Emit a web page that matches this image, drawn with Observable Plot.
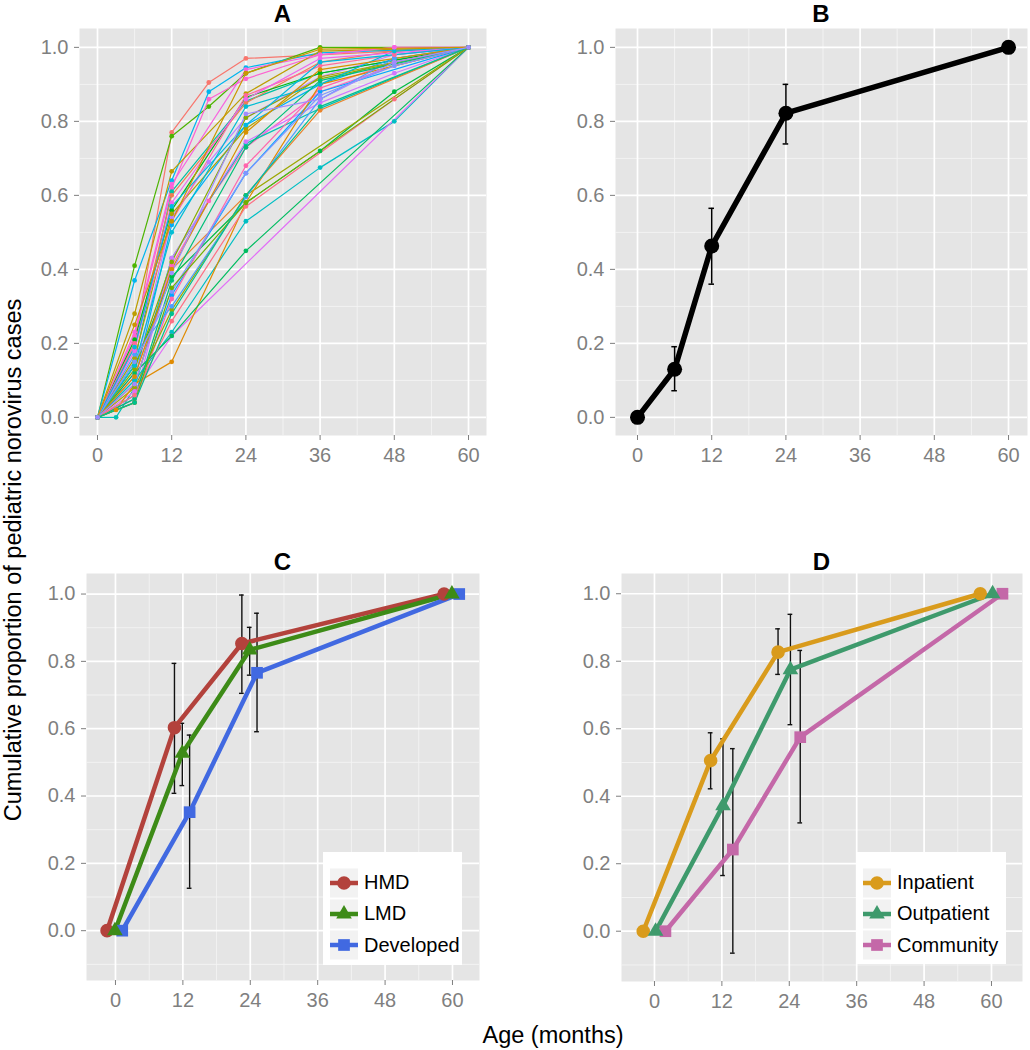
<!DOCTYPE html>
<html><head><meta charset="utf-8">
<script src="https://cdn.jsdelivr.net/npm/d3@7"></script>
<script src="https://cdn.jsdelivr.net/npm/@observablehq/plot@0.6"></script>
<style>
body{margin:0;background:#fff;font-family:"Liberation Sans",Arial,sans-serif;}
#wrap{position:relative;width:1030px;height:1050px;overflow:hidden;background:#fff;}
.pane{position:absolute;}
.ttl{position:absolute;font-weight:bold;font-size:24px;line-height:1;transform:translateX(-50%);color:#000;}
.axt{position:absolute;font-size:23.5px;line-height:1;color:#000;white-space:nowrap;}
.leg{position:absolute;background:#fff;}
.leg .row{position:absolute;left:0;height:30px;display:flex;align-items:center;}
.leg .row span{font-size:20px;color:#000;margin-left:6px;}
</style></head><body><div id="wrap"></div>
<script>
// ---------------- DATA ----------------
// Panel A: cumulative proportion by age (months) for each study: [age, proportion]
const studyCurves = [
  [[0,0],[6,0.2],[12,0.77],[18,0.905],[24,0.97],[60,1]],
  [[0,0],[6,0.41],[12,0.76],[18,0.84],[24,0.93],[36,1.0],[60,1]],
  [[0,0],[6,0.37],[12,0.64],[18,0.88],[24,0.945],[36,0.985],[60,1]],
  [[0,0],[6,0.22],[12,0.62],[18,0.86],[24,0.915],[36,0.98],[48,1.0],[60,1]],
  [[0,0],[6,0.28],[12,0.665],[24,0.875],[36,0.99],[60,1]],
  [[0,0],[6,0.15],[12,0.61],[24,0.855],[36,0.93],[60,1]],
  [[0,0],[6,0.12],[12,0.54],[18,0.69],[24,0.81],[36,0.92],[48,0.98],[60,1]],
  [[0,0],[6,0.19],[12,0.6],[24,0.85],[36,0.96],[48,0.99],[60,1]],
  [[0,0],[6,0.21],[12,0.56],[24,0.865],[36,0.93],[60,1]],
  [[0,0],[6,0.1],[12,0.52],[24,0.79],[36,0.9],[48,0.97],[60,1]],
  [[0,0],[6,0.11],[12,0.41],[18,0.585],[24,0.73],[36,0.88],[48,0.95],[60,1]],
  [[0,0],[6,0.16],[12,0.55],[24,0.78],[36,0.92],[60,1]],
  [[0,0],[3,0],[6,0.08],[12,0.43],[24,0.74],[36,0.835],[60,1]],
  [[0,0],[6,0.05],[12,0.43],[24,0.745],[36,0.85],[48,0.93],[60,1]],
  [[0,0],[6,0.09],[12,0.4],[24,0.6],[36,0.83],[60,1]],
  [[0,0],[6,0.14],[12,0.38],[24,0.58],[36,0.72],[48,0.88],[60,1]],
  [[0,0],[6,0.06],[12,0.33],[24,0.66],[36,0.88],[60,1]],
  [[0,0],[6,0.04],[12,0.32],[24,0.68],[36,0.89],[48,0.96],[60,1]],
  [[0,0],[6,0.08],[12,0.29],[24,0.6],[60,1]],
  [[0,0],[6,0.1],[12,0.23],[24,0.53],[36,0.675],[48,0.8],[60,1]],
  [[0,0],[6,0.07],[12,0.22],[60,1]],
  [[0,0],[3,0.02],[6,0.09],[12,0.15],[24,0.58],[36,0.9],[60,1]],
  [[0,0],[6,0.12],[12,0.22],[24,0.45],[60,1]],
  [[0,0],[6,0.17],[12,0.3],[24,0.595],[36,0.86],[48,0.97],[60,1]],
  [[0,0],[6,0.2],[12,0.53],[24,0.87],[36,0.95],[48,0.98],[60,1]],
  [[0,0],[6,0.13],[12,0.42],[24,0.81],[36,0.915],[60,1]],
  [[0,0],[6,0.14],[12,0.5],[24,0.84],[36,0.9],[48,0.99],[60,1]],
  [[0,0],[6,0.18],[12,0.58],[24,0.86],[36,0.97],[60,1]],
  [[0,0],[6,0.11],[12,0.4],[24,0.77],[36,0.94],[60,1]],
  [[0,0],[6,0.05],[12,0.37],[24,0.73],[36,0.91],[60,1]],
  [[0,0],[6,0.15],[12,0.34],[24,0.66],[36,0.87],[48,0.95],[60,1]],
  [[0,0],[6,0.06],[12,0.26],[24,0.57],[48,0.86],[60,1]],
  [[0,0],[6,0.04],[12,0.35],[24,0.58],[60,1]],
  [[0,0],[6,0.19],[12,0.57],[24,0.79],[36,0.96],[60,1]],
  [[0,0],[6,0.23],[12,0.63],[24,0.94],[36,0.98],[48,1.0],[60,1]],
  [[0,0],[6,0.25],[12,0.53],[24,0.93],[36,0.995],[60,1]],
  [[0,0],[6,0.04],[12,0.28],[24,0.6],[36,0.84],[60,1]],
  [[0,0],[6,0.09],[12,0.39],[24,0.82],[36,0.86],[48,0.96],[60,1]]
];

// Panel B: pooled estimate
const pooledAges = [0, 6, 12, 24, 60];
const pooledMean = [0, 0.13, 0.463, 0.822, 1];
const pooledLow  = [null, 0.072, 0.36, 0.739, null];
const pooledHigh = [null, 0.191, 0.565, 0.9, null];

// Panels C and D share ages
const groupAges = [0, 12, 24, 60];

// Panel C: by mortality stratum
const mortalityGroups = ["HMD", "LMD", "Developed"];
const hmdMean = [0, 0.603, 0.853, 1];
const hmdLow  = [null, 0.408, 0.705, null];
const hmdHigh = [null, 0.794, 0.997, null];
const lmdMean = [0, 0.527, 0.834, 1];
const lmdLow  = [null, 0.431, 0.759, null];
const lmdHigh = [null, 0.616, 0.901, null];
const devMean = [0, 0.352, 0.766, 1];
const devLow  = [null, 0.126, 0.591, null];
const devHigh = [null, 0.581, 0.943, null];

// Panel D: by setting
const settingGroups = ["Inpatient", "Outpatient", "Community"];
const inpMean = [0, 0.506, 0.827, 1];
const inpLow  = [null, 0.422, 0.761, null];
const inpHigh = [null, 0.588, 0.896, null];
const outMean = [0, 0.372, 0.775, 1];
const outLow  = [null, 0.165, 0.612, null];
const outHigh = [null, 0.570, 0.939, null];
const comMean = [0, 0.242, 0.575, 1];
const comLow  = [null, -0.065, 0.321, null];
const comHigh = [null, 0.541, 0.832, null];

const ageTicks = [0, 12, 24, 36, 48, 60];
const ageMinor = [6, 18, 30, 42, 54];
const propTicks = [0, 0.2, 0.4, 0.6, 0.8, 1.0];
const propMinorAB = [0.1, 0.3, 0.5, 0.7, 0.9];
const propMinorCD = [-0.1, 0.1, 0.3, 0.5, 0.7, 0.9];

// ---------------- STYLE ----------------
const FONT = "Liberation Sans, Arial, sans-serif";
const colorsC = {HMD: "#B3423C", LMD: "#3D8B17", Developed: "#4169E1"};
const colorsD = {Inpatient: "#D99B1C", Outpatient: "#3E9A6C", Community: "#C468A8"};
const symbols = ["circle", "triangle", "square"];
const symbolRadius = [6.8, 5.8, 6.6];
const dodgeC = {HMD: -1.5, LMD: -0.1, Developed: 1.2};
const dodgeD = {Inpatient: -2, Outpatient: 0.2, Community: 1.95};

// ggplot2-style hue palette (polar CIE-LUV, l = 65, c = 100)
function polarLuvHex(h, c, l) {
  const hr = h * Math.PI / 180, u = c * Math.cos(hr), v = c * Math.sin(hr);
  const Xn = 95.047, Yn = 100, Zn = 108.883;
  const den = Xn + 15 * Yn + 3 * Zn, un = 4 * Xn / den, vn = 9 * Yn / den;
  const Y = l > 8 ? Yn * Math.pow((l + 16) / 116, 3) : Yn * l / 903.3;
  const up = u / (13 * l) + un, vp = v / (13 * l) + vn;
  const X = Y * 9 * up / (4 * vp), Z = Y * (12 - 3 * up - 20 * vp) / (4 * vp);
  const x = X / 100, y = Y / 100, z = Z / 100;
  const lin = [
    3.2404542 * x - 1.5371385 * y - 0.4985314 * z,
    -0.9692660 * x + 1.8760108 * y + 0.0415560 * z,
    0.0556434 * x - 0.2040259 * y + 1.0572252 * z
  ];
  const g = lin.map(t => { t = Math.max(0, Math.min(1, t)); return t <= 0.0031308 ? 12.92 * t : 1.055 * Math.pow(t, 1 / 2.4) - 0.055; });
  return d3.rgb(g[0] * 255, g[1] * 255, g[2] * 255).formatHex();
}

const wrap = document.getElementById("wrap");

function background(yMinor) {
  return [
    Plot.frame({fill: "#E5E5E5", stroke: "none"}),
    Plot.gridX(ageMinor, {stroke: "#F4F4F4", strokeOpacity: 1, strokeWidth: 0.9}),
    Plot.gridY(yMinor, {stroke: "#F4F4F4", strokeOpacity: 1, strokeWidth: 0.9}),
    Plot.gridX(ageTicks, {stroke: "#ffffff", strokeOpacity: 1, strokeWidth: 1.7}),
    Plot.gridY(propTicks, {stroke: "#ffffff", strokeOpacity: 1, strokeWidth: 1.7}),
    Plot.axisX(ageTicks, {tickSize: 5, tickPadding: 7, fontSize: 20, color: "#7F7F7F", tickFormat: d => String(d), label: null}),
    Plot.axisY(propTicks, {tickSize: 5, tickPadding: 6, fontSize: 20, color: "#7F7F7F", tickFormat: d3.format(".1f"), label: null})
  ];
}

function place(svg, left, top) {
  svg.classList.add("pane");
  svg.style.left = left + "px";
  svg.style.top = top + "px";
  wrap.appendChild(svg);
}

function title(txt, cx, top) {
  const d = document.createElement("div");
  d.className = "ttl"; d.textContent = txt;
  d.style.left = cx + "px"; d.style.top = top + "px";
  wrap.appendChild(d);
}

// ---------------- PANEL A ----------------
const nStudies = studyCurves.length;
const rowsA = studyCurves.flatMap((c, i) => c.map(([age, value]) => ({study: i, age, value})));
const hueRange = d3.range(nStudies).map(k => polarLuvHex(15 + 360 * ((k * 11) % nStudies) / nStudies, 100, 65));

const plotA = Plot.plot({
  width: 500, height: 480,
  marginLeft: 79, marginRight: 14, marginTop: 28, marginBottom: 45,
  x: {domain: [-2.91, 62.91], label: null},
  y: {domain: [-0.049, 1.051], label: null},
  color: {type: "ordinal", domain: d3.range(nStudies), range: hueRange},
  style: {fontFamily: FONT, background: "transparent", overflow: "visible"},
  marks: [
    ...background(propMinorAB),
    Plot.line(rowsA, {x: "age", y: "value", z: "study", stroke: "study", strokeWidth: 1.2}),
    Plot.dot(rowsA, {x: "age", y: "value", fill: "study", r: 2.4})
  ]
});
place(plotA, 0, 0);
title("A", 282.5, 2);

// ---------------- PANEL B ----------------
const rowsB = pooledAges.map((age, i) => ({age, mean: pooledMean[i], lo: pooledLow[i], hi: pooledHigh[i]}));
const errB = rowsB.filter(d => d.lo != null);
const plotB = Plot.plot({
  width: 500, height: 480,
  marginLeft: 85, marginRight: 3, marginTop: 28, marginBottom: 45,
  x: {domain: [-3.56, 63.07], label: null},
  y: {domain: [-0.049, 1.051], label: null},
  style: {fontFamily: FONT, background: "transparent", overflow: "visible"},
  marks: [
    ...background(propMinorAB),
    Plot.ruleX(errB, {x: "age", y1: "lo", y2: "hi", stroke: "#000", strokeWidth: 1.5}),
    Plot.ruleY(errB, {y: "lo", x1: d => d.age - 0.45, x2: d => d.age + 0.45, stroke: "#000", strokeWidth: 1.5}),
    Plot.ruleY(errB, {y: "hi", x1: d => d.age - 0.45, x2: d => d.age + 0.45, stroke: "#000", strokeWidth: 1.5}),
    Plot.line(rowsB, {x: "age", y: "mean", stroke: "#000", strokeWidth: 5.5}),
    Plot.dot(rowsB, {x: "age", y: "mean", fill: "#000", r: 7.5})
  ]
});
place(plotB, 530, 0);
title("B", 821, 2);

// ---------------- PANELS C & D ----------------
function groupRows(groups, means, lows, highs, dodge) {
  return groups.flatMap((g, gi) => groupAges.map((age, i) => ({
    group: g, gi, age, x: age + dodge[g], mean: means[gi][i], lo: lows[gi][i], hi: highs[gi][i]
  })));
}

function groupPanel(rows, groups, colors, domX, domY, margins) {
  const err = rows.filter(d => d.lo != null);
  const cap = 0.42;
  return Plot.plot({
    width: 500, height: 520,
    ...margins,
    x: {domain: domX, label: null},
    y: {domain: domY, label: null},
    r: {type: "identity"},
    color: {domain: groups, range: groups.map(g => colors[g])},
    symbol: {domain: groups, range: symbols},
    style: {fontFamily: FONT, background: "transparent", overflow: "visible"},
    marks: [
      ...background(propMinorCD),
      Plot.ruleX(err, {x: "x", y1: "lo", y2: "hi", stroke: "#111", strokeWidth: 1.4}),
      Plot.ruleY(err, {y: "lo", x1: d => d.x - cap, x2: d => d.x + cap, stroke: "#111", strokeWidth: 1.4}),
      Plot.ruleY(err, {y: "hi", x1: d => d.x - cap, x2: d => d.x + cap, stroke: "#111", strokeWidth: 1.4}),
      Plot.line(rows, {x: "x", y: "mean", z: "group", stroke: "group", strokeWidth: 4.5}),
      Plot.dot(rows, {x: "x", y: "mean", fill: "group", symbol: "group", r: d => symbolRadius[d.gi], stroke: "none"})
    ]
  });
}

const rowsC = groupRows(mortalityGroups, [hmdMean, lmdMean, devMean], [hmdLow, lmdLow, devLow], [hmdHigh, lmdHigh, devHigh], dodgeC);
const plotC = groupPanel(rowsC, mortalityGroups, colorsC, [-5.16, 64.81], [-0.148, 1.061],
  {marginLeft: 86, marginRight: 21, marginTop: 43, marginBottom: 70});
place(plotC, 0, 530);
title("C", 282.5, 550);

const rowsD = groupRows(settingGroups, [inpMean, outMean, comMean], [inpLow, outLow, comLow], [inpHigh, outHigh, comHigh], dodgeD);
const plotD = groupPanel(rowsD, settingGroups, colorsD, [-5.87, 65.52], [-0.149, 1.06],
  {marginLeft: 91, marginRight: 8, marginTop: 43, marginBottom: 69});
place(plotD, 530, 530);
title("D", 821.5, 550);

// ---------------- LEGENDS ----------------
function legend(left, top, w, h, groups, colors) {
  const box = document.createElement("div");
  box.className = "leg";
  Object.assign(box.style, {left: left + "px", top: top + "px", width: w + "px", height: h + "px"});
  groups.forEach((g, i) => {
    const row = document.createElement("div");
    row.className = "row";
    row.style.top = (15.5 + i * 31.3) + "px";
    row.style.left = "7px";
    const ns = "http://www.w3.org/2000/svg";
    const s = document.createElementNS(ns, "svg");
    s.setAttribute("width", 28); s.setAttribute("height", 30);
    const r = document.createElementNS(ns, "rect");
    r.setAttribute("x", 0); r.setAttribute("y", 0.5); r.setAttribute("width", 28); r.setAttribute("height", 29);
    r.setAttribute("fill", "#F2F2F2");
    s.appendChild(r);
    const l = document.createElementNS(ns, "line");
    l.setAttribute("x1", 0); l.setAttribute("x2", 28); l.setAttribute("y1", 15); l.setAttribute("y2", 15);
    l.setAttribute("stroke", colors[g]); l.setAttribute("stroke-width", 4.5);
    s.appendChild(l);
    const symType = [d3.symbolCircle, d3.symbolTriangle, d3.symbolSquare][i];
    const rad = symbolRadius[i];
    const p = document.createElementNS(ns, "path");
    p.setAttribute("d", d3.symbol(symType, Math.PI * rad * rad)());
    p.setAttribute("transform", "translate(14,15)");
    p.setAttribute("fill", colors[g]);
    s.appendChild(p);
    row.appendChild(s);
    const t = document.createElement("span");
    t.textContent = g;
    row.appendChild(t);
    box.appendChild(row);
  });
  wrap.appendChild(box);
}
legend(323, 852, 139, 113, mortalityGroups, colorsC);
legend(856, 852, 150, 112, settingGroups, colorsD);

// ---------------- AXIS TITLES ----------------
const xt = document.createElement("div");
xt.className = "axt"; xt.textContent = "Age (months)";
Object.assign(xt.style, {left: "553px", top: "1023.5px", transform: "translateX(-50%)"});
wrap.appendChild(xt);

const yt = document.createElement("div");
yt.className = "axt"; yt.textContent = "Cumulative proportion of pediatric norovirus cases";
Object.assign(yt.style, {left: "14px", top: "560px", transform: "translate(-50%,-50%) rotate(-90deg)"});
wrap.appendChild(yt);
</script>
</body></html>
